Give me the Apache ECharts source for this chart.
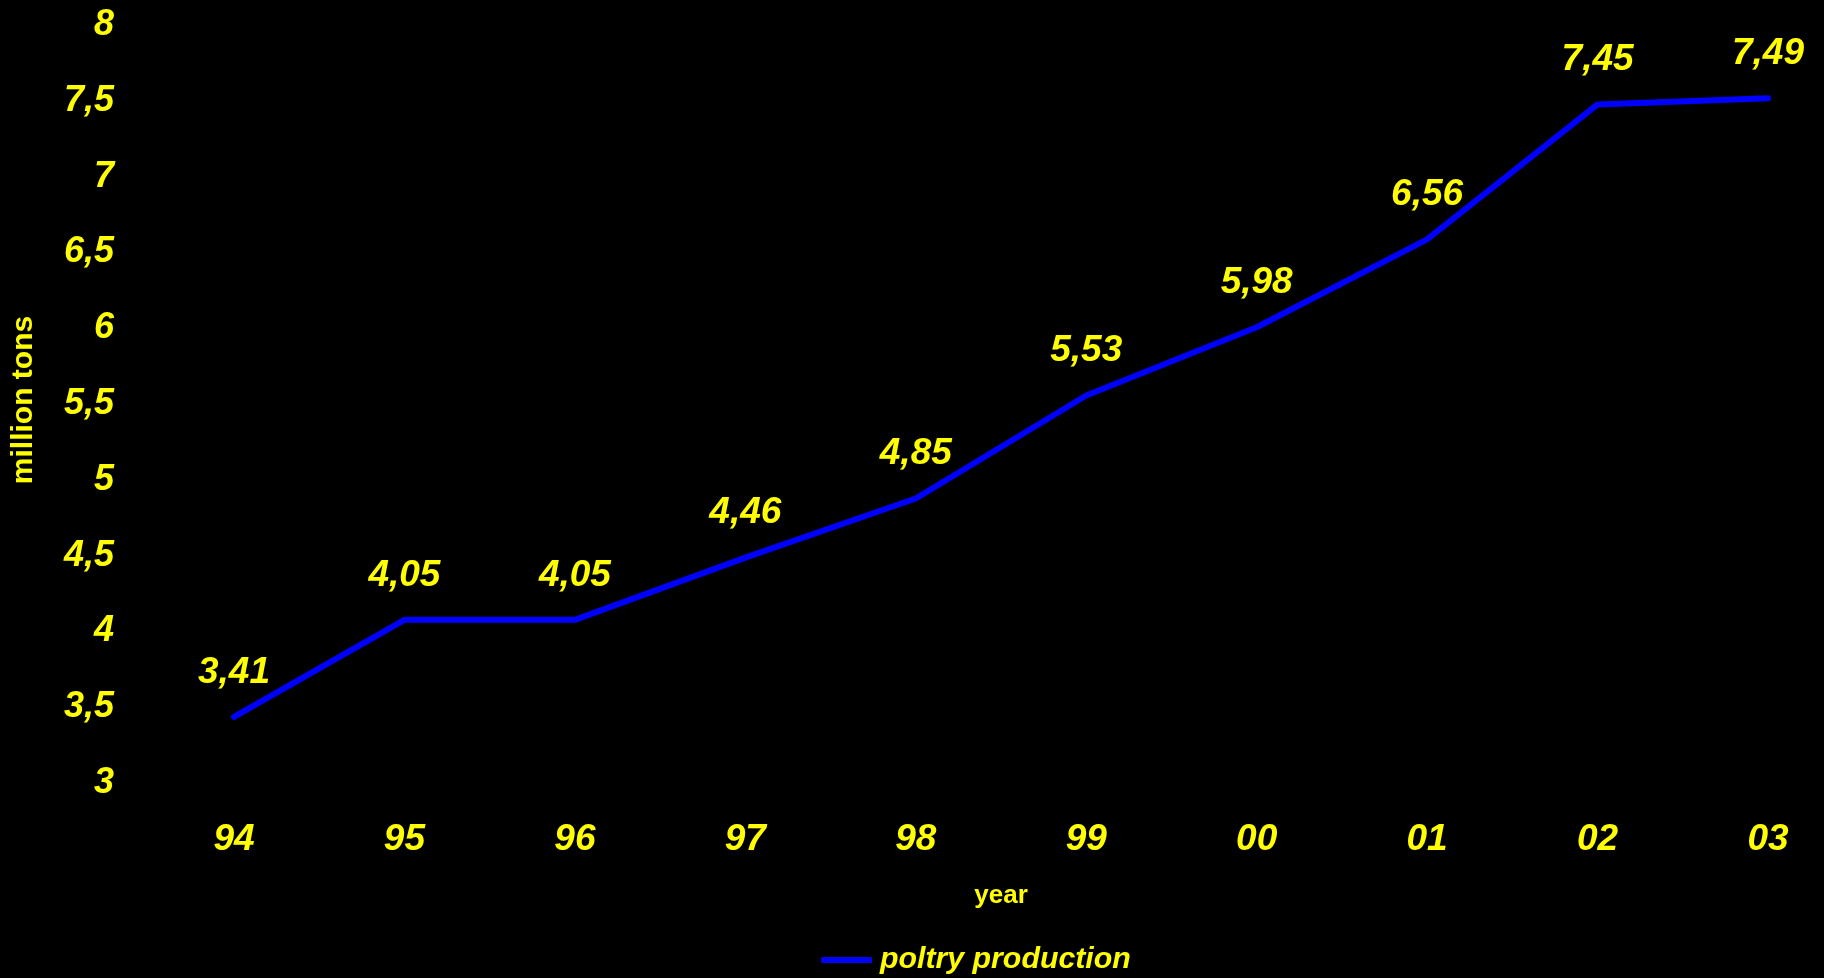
<!DOCTYPE html>
<html>
<head>
<meta charset="utf-8">
<style>
html,body{margin:0;padding:0;background:#000;}
#chart{width:1824px;height:978px;}
</style>
<script src="https://cdn.jsdelivr.net/npm/echarts@6/dist/echarts.min.js"></script>
</head>
<body>
<div id="chart"></div>
<script>
const categories = ['94','95','96','97','98','99','00','01','02','03'];
const production = [3.41, 4.05, 4.05, 4.46, 4.85, 5.53, 5.98, 6.56, 7.45, 7.49];
const seriesName = 'poltry production';
const xName = 'year';
const yName = 'million tons';

const FONT = '"Liberation Sans", Arial, sans-serif';
const YELLOW = '#FFFF00';
const BLUE = '#0000FF';
const fmt = v => String(v).replace('.', ',');

const chart = echarts.init(document.getElementById('chart'));
chart.setOption({
  backgroundColor: '#000000',
  animation: false,
  grid: { left: 234, right: 56, top: 21, bottom: 199, containLabel: false, outerBoundsMode: 'none' },
  legend: {
    data: [{ name: seriesName, itemStyle: { color: BLUE } }],
    left: 816, top: 940,
    icon: 'roundRect',
    itemWidth: 51, itemHeight: 6, itemGap: 10,
    textStyle: { color: YELLOW, fontFamily: FONT, fontWeight: 'bold', fontStyle: 'italic', fontSize: 30.3, padding: [0, 0, 0, 3] }
  },
  xAxis: {
    type: 'category',
    data: categories,
    boundaryGap: false,
    name: xName,
    nameLocation: 'middle',
    nameGap: 104,
    nameTextStyle: { color: YELLOW, fontFamily: FONT, fontWeight: 'bold', fontSize: 26 },
    axisLine: { show: false },
    axisTick: { show: false },
    splitLine: { show: false },
    axisLabel: { color: YELLOW, fontFamily: FONT, fontWeight: 'bold', fontStyle: 'italic', fontSize: 37, margin: 42 }
  },
  yAxis: {
    type: 'value',
    min: 3, max: 8, interval: 0.5,
    name: yName,
    nameLocation: 'middle',
    nameGap: 195,
    nameTextStyle: { color: YELLOW, fontFamily: FONT, fontWeight: 'bold', fontSize: 30 },
    axisLine: { show: false },
    axisTick: { show: false },
    splitLine: { show: false },
    axisLabel: { color: YELLOW, fontFamily: FONT, fontWeight: 'bold', fontStyle: 'italic', fontSize: 36, margin: 120, formatter: fmt, verticalAlign: 'top', lineHeight: 8 }
  },
  series: [{
    name: seriesName,
    type: 'line',
    data: production,
    symbol: 'circle',
    symbolSize: 0,
    showSymbol: true,
    lineStyle: { color: BLUE, width: 6, cap: 'round', join: 'round' },
    itemStyle: { color: BLUE },
    label: {
      show: true, position: 'top', distance: 26,
      color: YELLOW, fontFamily: FONT, fontWeight: 'bold', fontStyle: 'italic', fontSize: 37,
      formatter: p => fmt(p.value)
    }
  }]
});
</script>
</body>
</html>
